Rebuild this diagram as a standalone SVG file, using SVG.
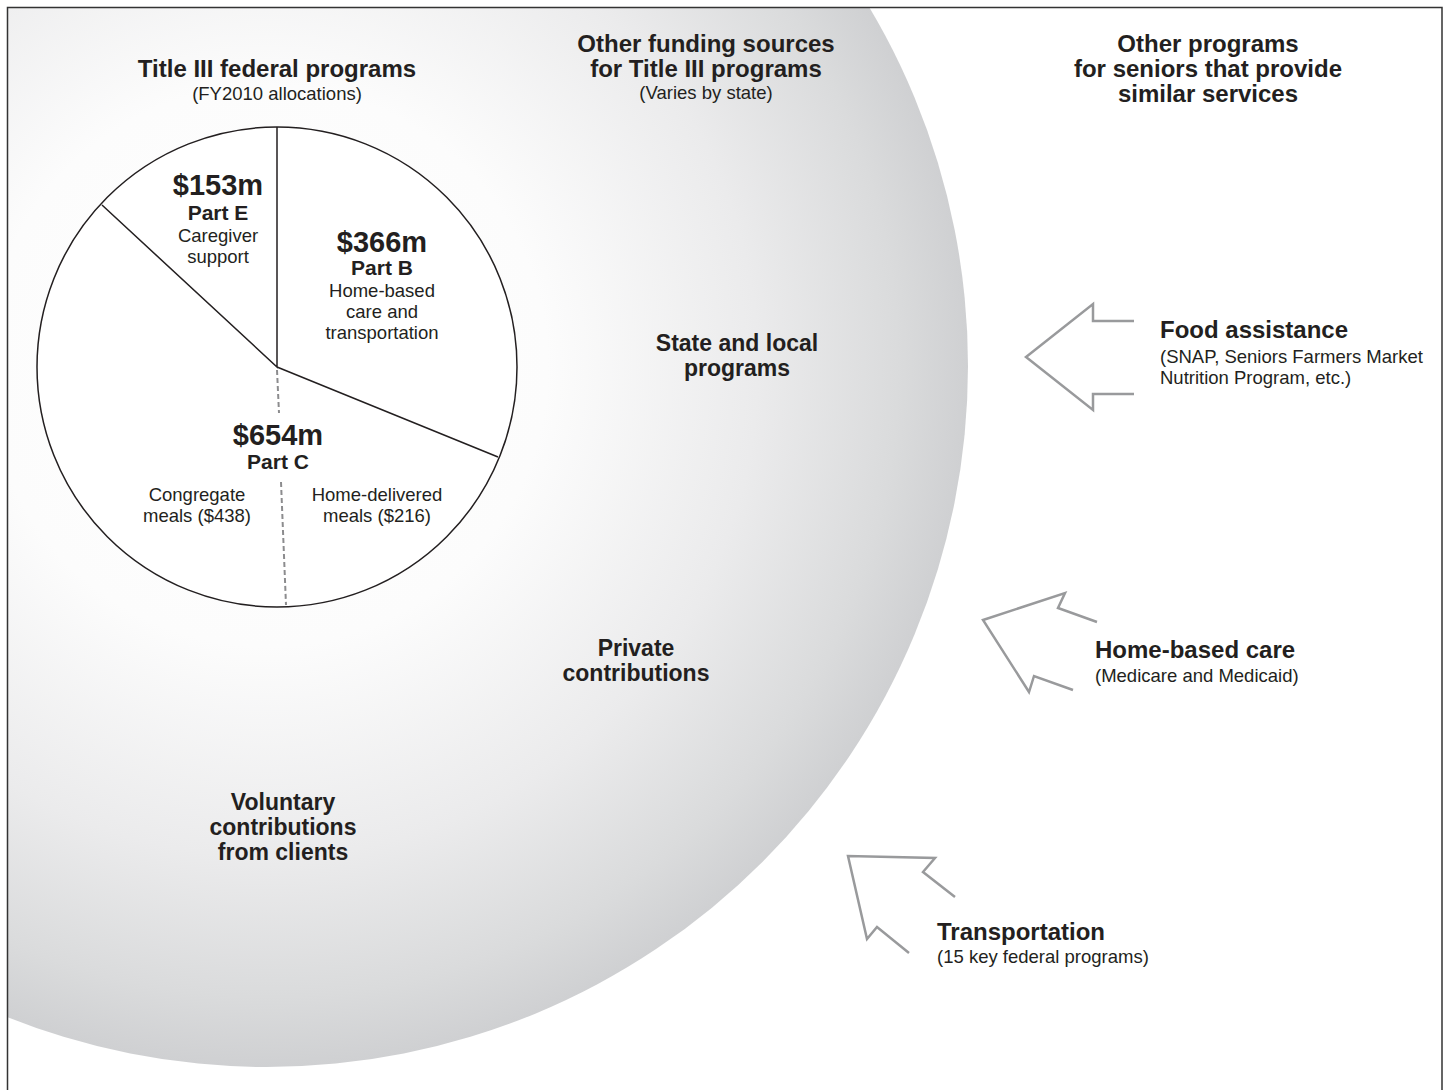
<svg xmlns="http://www.w3.org/2000/svg" width="1449" height="1090" viewBox="0 0 1449 1090">
<style>
text{font-family:"Liberation Sans",Arial,Helvetica,sans-serif;fill:#231f20}
.h{font-size:24px;font-weight:bold}
.lab{font-size:23px;font-weight:bold}
.sub{font-size:18.5px}
.amt{font-size:29px;font-weight:bold}
.part{font-size:21px;font-weight:bold}
.desc{font-size:18.5px}
.mid{text-anchor:middle}
.arrow{fill:none;stroke:#999a9c;stroke-width:2.5;stroke-linejoin:miter}
.pieline{stroke:#231f20;stroke-width:1.5;fill:none}
.dash{stroke:#8c8c8e;stroke-width:2;stroke-dasharray:5 3;fill:none}
</style>
<defs>
<radialGradient id="bg" gradientUnits="userSpaceOnUse" cx="267" cy="366" r="701">
<stop offset="0" stop-color="#ffffff"/>
<stop offset="0.4" stop-color="#fcfcfc"/>
<stop offset="0.7" stop-color="#ebebec"/>
<stop offset="0.9" stop-color="#dadbdc"/>
<stop offset="1" stop-color="#cfd0d2"/>
</radialGradient>
<clipPath id="frameclip"><rect x="7" y="7" width="1435" height="1090"/></clipPath>
</defs>
<rect x="0" y="0" width="1449" height="1090" fill="#ffffff"/>
<g id="funding-circle" clip-path="url(#frameclip)">
<circle cx="267" cy="366" r="701" fill="url(#bg)"/>
</g>
<path id="frame" d="M7.5,1095 L7.5,7.5 L1442,7.5 L1442,1095" fill="none" stroke="#333" stroke-width="1.5"/>

<g id="title-heading">
<text class="h mid" x="277" y="77">Title III federal programs</text>
<text class="sub mid" x="277" y="100">(FY2010 allocations)</text>
</g>
<g id="other-funding-heading">
<text class="h mid" x="706" y="52">Other funding sources</text>
<text class="h mid" x="706" y="77">for Title III programs</text>
<text class="sub mid" x="706" y="99">(Varies by state)</text>
</g>
<g id="other-programs-heading">
<text class="h mid" x="1208" y="52">Other programs</text>
<text class="h mid" x="1208" y="77">for seniors that provide</text>
<text class="h mid" x="1208" y="102">similar services</text>
</g>

<g id="pie">
<circle cx="277" cy="367" r="240" fill="#ffffff" stroke="#231f20" stroke-width="1.5"/>
<path class="pieline" d="M277,127 L277,367 L102,205 M277,367 L498,457"/>
<path class="dash" d="M277,370 L279,413 M281,482 L286,605"/>
</g>
<g id="part-e">
<text class="amt mid" x="218" y="195">$153m</text>
<text class="part mid" x="218" y="220">Part E</text>
<text class="desc mid" x="218" y="242">Caregiver</text>
<text class="desc mid" x="218" y="263">support</text>
</g>
<g id="part-b">
<text class="amt mid" x="382" y="252">$366m</text>
<text class="part mid" x="382" y="275">Part B</text>
<text class="desc mid" x="382" y="297">Home-based</text>
<text class="desc mid" x="382" y="318">care and</text>
<text class="desc mid" x="382" y="339">transportation</text>
</g>
<g id="part-c">
<text class="amt mid" x="278" y="445">$654m</text>
<text class="part mid" x="278" y="469">Part C</text>
<text class="desc mid" x="197" y="501">Congregate</text>
<text class="desc mid" x="197" y="522">meals ($438)</text>
<text class="desc mid" x="377" y="501">Home-delivered</text>
<text class="desc mid" x="377" y="522">meals ($216)</text>
</g>

<g id="state-local">
<text class="lab mid" x="737" y="351">State and local</text>
<text class="lab mid" x="737" y="376">programs</text>
</g>
<g id="private">
<text class="lab mid" x="636" y="656">Private</text>
<text class="lab mid" x="636" y="681">contributions</text>
</g>
<g id="voluntary">
<text class="lab mid" x="283" y="810">Voluntary</text>
<text class="lab mid" x="283" y="835">contributions</text>
<text class="lab mid" x="283" y="860">from clients</text>
</g>

<g id="connectors">
<path class="arrow" d="M1134,321 L1093,321 L1093,304 L1026,357 L1093,410 L1093,394 L1134,394"/>
<path class="arrow" d="M1097,622 L1058,608 L1065,593 L983,620 L1029,692 L1034,676 L1073,690"/>
<path class="arrow" d="M955,897 L923,872 L935,858 L848,856 L867,939 L877,927 L909,953"/>
</g>

<g id="food-assistance">
<text class="h" x="1160" y="338">Food assistance</text>
<text class="sub" x="1160" y="363">(SNAP, Seniors Farmers Market</text>
<text class="sub" x="1160" y="384">Nutrition Program, etc.)</text>
</g>
<g id="home-based-care">
<text class="h" x="1095" y="658">Home-based care</text>
<text class="sub" x="1095" y="682">(Medicare and Medicaid)</text>
</g>
<g id="transportation">
<text class="h" x="937" y="940">Transportation</text>
<text class="sub" x="937" y="963">(15 key federal programs)</text>
</g>
</svg>
